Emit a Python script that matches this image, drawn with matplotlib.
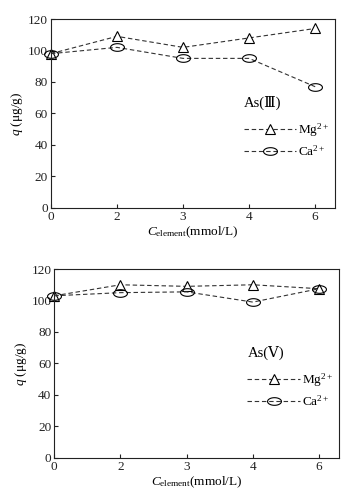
import numpy as np
import matplotlib
matplotlib.use("Agg")
import matplotlib.pyplot as plt
from matplotlib.path import Path

plt.rcParams['font.family'] = ['Liberation Serif', 'DejaVu Serif', 'Noto Sans CJK SC']
plt.rcParams['mathtext.fontset'] = 'custom'
plt.rcParams['mathtext.rm'] = 'Liberation Serif'
plt.rcParams['mathtext.it'] = 'Liberation Serif:italic'

categories = ["0", "2", "3", "4", "6"]
mg_as3 = [98, 109, 102, 108, 114]
ca_as3 = [98, 102, 95, 95, 77]
mg_as5 = [103, 110, 109, 110, 107.5]
ca_as5 = [103, 105, 105.5, 99, 107.5]
yticks = [0, 20, 40, 60, 80, 100, 120]

t = np.linspace(0, 2 * np.pi, 40)
ellipse = Path(np.column_stack([np.cos(t), 0.55 * np.sin(t)]), closed=True)

fig = plt.figure(figsize=(3.61, 5.01), dpi=100)
col = '#333333'

def panel(rect, mg, ca, title):
    ax = fig.add_axes(rect)
    x = np.arange(len(categories))
    ax.plot(x, mg, linestyle=(0, (4, 2.5)), color=col, lw=0.8, marker='^', ms=7.5,
            mfc='white', mec='black', mew=0.8, label='Mg$^{2+}$', clip_on=False)
    ax.plot(x, ca, linestyle=(0, (4, 2.5)), color=col, lw=0.8, marker=ellipse, ms=10,
            mfc='none', mec='black', mew=0.8, label='Ca$^{2+}$', clip_on=False)
    ax.set_xlim(0, 4.3)
    ax.set_ylim(0, 120)
    ax.set_xticks(x)
    ax.set_xticklabels(categories)
    ax.set_yticks(yticks)
    ax.tick_params(direction='in', length=3, width=0.8, labelsize=9.5, pad=2,
                   colors='#222222')
    for s in ax.spines.values():
        s.set_linewidth(0.8)
        s.set_color('#222222')
    ax.set_ylabel(r'$q$ (μg/g)', fontsize=9.5)
    ax.yaxis.set_label_coords(-0.09, 0.5)
    ax.set_xlabel(r'$C_{\mathrm{element}}$(mmol/L)', fontsize=9.5, va='top')
    ax.xaxis.set_label_coords(0.5, -0.09)
    leg = ax.legend(title=title, frameon=False, loc='upper left',
                    bbox_to_anchor=(0.66, 0.62), handlelength=4.0, fontsize=9.5,
                    title_fontsize=10.5, labelspacing=0.4, handletextpad=0.1,
                    borderaxespad=0)
    leg._legend_box.align = 'left'
    leg._legend_box.sep = 8
    return ax

panel([0.141, 0.585, 0.787, 0.377], mg_as3, ca_as3, 'As(Ⅲ)')
panel([0.150, 0.086, 0.789, 0.377], mg_as5, ca_as5, 'As(Ⅴ)')

fig.savefig('out.png', dpi=100)
